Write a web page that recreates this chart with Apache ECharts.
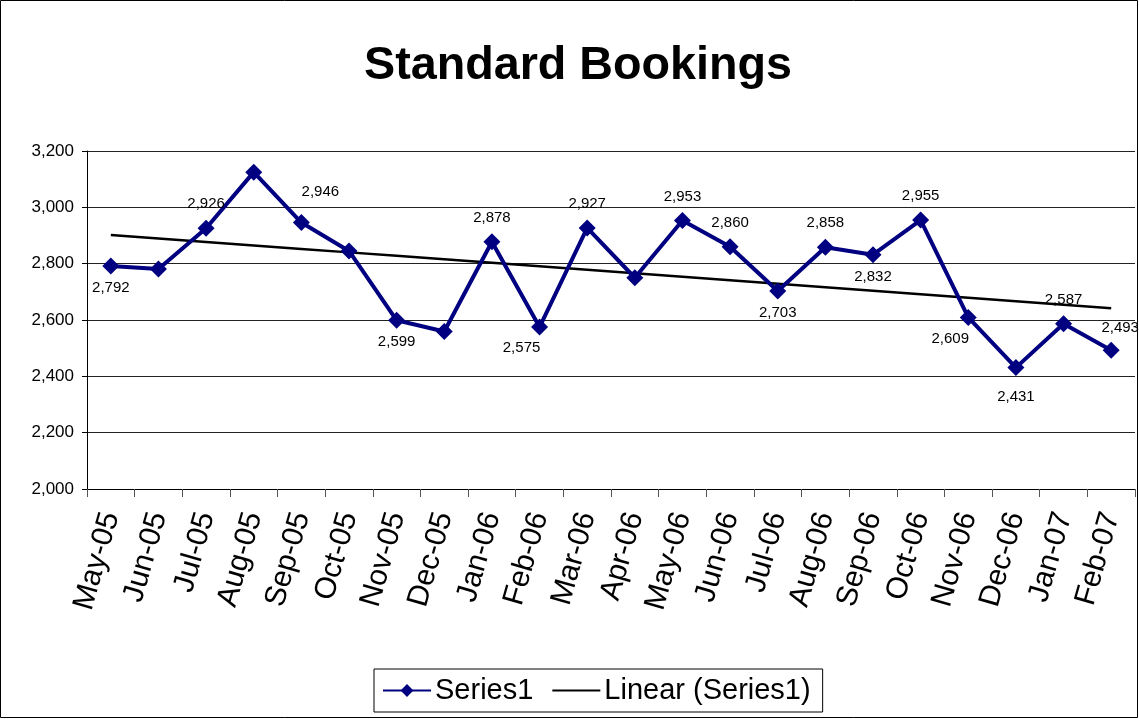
<!DOCTYPE html>
<html>
<head>
<meta charset="utf-8">
<script src="https://cdn.jsdelivr.net/npm/echarts@6/dist/echarts.min.js"></script>
<style>
  html, body { margin: 0; padding: 0; background: #fff; }
  #chart { width: 1139px; height: 719px; }
</style>
</head>
<body>
<div id="chart"></div>
<script>
var months = ['May-05', 'Jun-05', 'Jul-05', 'Aug-05', 'Sep-05', 'Oct-05', 'Nov-05', 'Dec-05',
    'Jan-06', 'Feb-06', 'Mar-06', 'Apr-06', 'May-06', 'Jun-06', 'Jul-06', 'Aug-06',
    'Sep-06', 'Oct-06', 'Nov-06', 'Dec-06', 'Jan-07', 'Feb-07'];
var bookings = [2792, 2781, 2926, 3125, 2946, 2845, 2599, 2559, 2878, 2575, 2927, 2750,
    2953, 2860, 2703, 2858, 2832, 2955, 2609, 2431, 2587, 2493];
// which points carry a value label in the original (null = none)
var labelPlace = ['below', null, 'above', null, 'aboveRight', null, 'below', null,
    'above', 'belowLeft', 'above', null, 'above', 'above', 'below', 'above',
    'below', 'above', 'belowLeft', 'belowFar', 'above', 'aboveRight2'];

var placeCfg = {
    above: {position: 'top', distance: 8},
    below: {position: 'bottom', distance: 6},
    belowFar: {position: 'bottom', distance: 13},
    aboveRight: {position: 'top', distance: 15, offset: [19, 0]},
    aboveRight2: {position: 'top', distance: 6, offset: [9, 0]},
    belowLeft: {position: 'bottom', distance: 5, offset: [-18, 0]}
};

// least squares trend line
var n = bookings.length, sx = 0, sy = 0, sxy = 0, sxx = 0;
bookings.forEach(function (v, i) { sx += i; sy += v; sxy += i * v; sxx += i * i; });
var slope = (n * sxy - sx * sy) / (n * sxx - sx * sx);
var icpt = (sy - slope * sx) / n;
var trend = bookings.map(function (v, i) { return +(icpt + slope * i).toFixed(1); });

var seriesData = bookings.map(function (v, i) {
    var p = labelPlace[i];
    if (!p) return {value: v, label: {show: false}};
    return {value: v, label: Object.assign({show: true}, placeCfg[p])};
});

var font = 'Liberation Sans, Arial';
var myChart = echarts.init(document.getElementById('chart'));
var option = {
    backgroundColor: '#fff',
    animation: false,
    title: {
        text: 'Standard Bookings',
        left: 359,
        top: 38,
        textStyle: {fontFamily: font, fontSize: 46.7, fontWeight: 'bold', color: '#000'}
    },
    graphic: [{
        type: 'rect',
        shape: {x: 0.5, y: 0.5, width: 1137, height: 717},
        style: {fill: 'none', stroke: '#000', lineWidth: 1},
        silent: true
    }],
    legend: {
        bottom: 7,
        left: 374,
        data: [
            {name: 'Series1'},
            {name: 'Linear (Series1)', itemStyle: {opacity: 0}}
        ],
        borderColor: '#000',
        borderWidth: 1,
        padding: [7, 12, 7, 8],
        itemGap: 18,
        itemWidth: 48,
        itemHeight: 16,
        textStyle: {fontFamily: font, fontSize: 29, color: '#000', padding: [0, 0, 0, -1]}
    },
    grid: {left: 87, right: 4, top: 151, bottom: 230, containLabel: false},
    xAxis: {
        type: 'category',
        data: months,
        boundaryGap: true,
        axisLine: {lineStyle: {color: '#000', width: 1}},
        axisTick: {show: true, length: 8, lineStyle: {color: '#555'}},
        axisLabel: {
            rotate: 74,
            margin: 24,
            interval: 0,
            fontFamily: font,
            fontSize: 30,
            color: '#000'
        }
    },
    yAxis: {
        type: 'value',
        min: 2000,
        max: 3200,
        interval: 200,
        axisLine: {show: true, lineStyle: {color: '#000'}},
        axisTick: {show: true, length: 5, lineStyle: {color: '#000'}},
        splitLine: {lineStyle: {color: '#222', width: 1}},
        axisLabel: {
            fontFamily: font,
            fontSize: 17,
            color: '#000',
            margin: 13,
            formatter: function (v) { return v.toLocaleString('en-US'); }
        }
    },
    series: [{
        name: 'Series1',
        type: 'line',
        data: seriesData,
        symbol: 'diamond',
        symbolSize: 17,
        itemStyle: {color: '#000080'},
        lineStyle: {color: '#000080', width: 4},
        label: {
            fontFamily: font,
            fontSize: 15,
            color: '#000',
            formatter: function (p) { return p.value.toLocaleString('en-US'); }
        },
        z: 3
    }, {
        name: 'Linear (Series1)',
        type: 'line',
        data: trend,
        symbol: 'none',
        lineStyle: {color: '#000', width: 2.5},
        itemStyle: {color: '#000'},
        z: 2
    }]
};
myChart.setOption(option);
</script>
</body>
</html>
